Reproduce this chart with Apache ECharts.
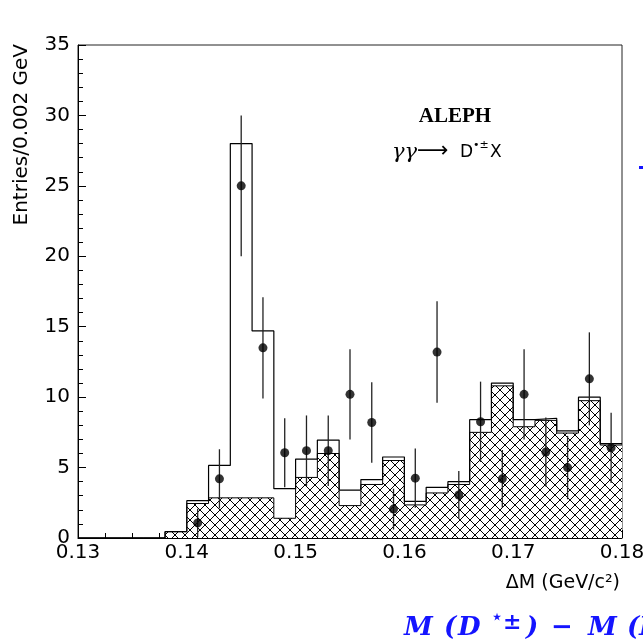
<!DOCTYPE html>
<html>
<head>
<meta charset="utf-8">
<script src="https://cdn.jsdelivr.net/npm/echarts@6/dist/echarts.min.js"></script>
<style>
  html, body { margin: 0; padding: 0; background: #fff; }
  #main { width: 643px; height: 643px; }
</style>
</head>
<body>
<div id="main"></div>
<script>
// bins of 0.002 GeV, lower edges
const binLow = [0.130, 0.132, 0.134, 0.136, 0.138, 0.140, 0.142, 0.144, 0.146, 0.148,
  0.150, 0.152, 0.154, 0.156, 0.158, 0.160, 0.162, 0.164, 0.166, 0.168,
  0.170, 0.172, 0.174, 0.176, 0.178]
const binHigh = 0.18
// open histogram (signal + background MC)
const totalCounts = [0, 0, 0, 0, 0.45, 2.65, 5.15, 28.0, 14.7, 3.5,
  5.6, 6.95, 3.4, 4.15, 5.75, 2.6, 3.6, 4.0, 8.4, 11.0,
  8.4, 8.5, 7.6, 10.0, 6.7]
// hatched histogram (background)
const bgCounts = [0, 0, 0, 0, 0.45, 2.45, 2.85, 2.85, 2.85, 1.4,
  4.3, 6.0, 2.3, 3.8, 5.5, 2.35, 3.2, 3.8, 7.5, 10.8,
  7.9, 8.35, 7.45, 9.75, 6.6]
// data points
const pointX = [0.141, 0.143, 0.145, 0.147, 0.149, 0.151, 0.153, 0.155, 0.157, 0.159,
  0.161, 0.163, 0.165, 0.167, 0.169, 0.171, 0.173, 0.175, 0.177, 0.179]
const pointY = [1.07, 4.2, 25.0, 13.5, 6.05, 6.2, 6.2, 10.2, 8.2, 2.05,
  4.25, 13.2, 3.05, 8.25, 4.2, 10.2, 6.1, 5.0, 11.3, 6.4]
const pointErr = [1.0, 2.1, 5.0, 3.6, 2.45, 2.5, 2.5, 3.2, 2.85, 1.45,
  2.1, 3.6, 1.7, 2.85, 2.05, 3.2, 2.45, 2.25, 3.3, 2.5]

const stepData = (vals) => {
  const d = binLow.map((x, i) => [x, vals[i]])
  d.push([binHigh, vals[vals.length - 1]])
  return d
}

// cross hatch pattern
const hatch = document.createElement('canvas')
hatch.width = 10
hatch.height = 10
const hc = hatch.getContext('2d')
hc.fillStyle = '#fff'
hc.fillRect(0, 0, 10, 10)
hc.strokeStyle = '#000'
hc.lineWidth = 1
hc.beginPath()
hc.moveTo(0, 0); hc.lineTo(10, 10)
hc.moveTo(10, 0); hc.lineTo(0, 10)
hc.stroke()

const font = 'DejaVu Sans'
const blue = '#1414ff'
const blueFont = 'italic bold 26px "DejaVu Serif"'
const blueText = (x, text, f, y) => ({
  type: 'text', x: x, y: y || 641,
  style: { text: text, font: f || blueFont, fill: blue, align: 'left', verticalAlign: 'bottom' },
})

const chart = echarts.init(document.getElementById('main'))
const option = {
  animation: false,
  backgroundColor: '#fff',
  grid: {
    left: 78,
    right: 21,
    top: 45,
    bottom: 105,
    outerBoundsMode: 'none',
    containLabel: false,
    show: true,
    borderColor: '#222',
    borderWidth: 1,
  },
  xAxis: {
    type: 'value',
    min: 0.13,
    max: 0.18,
    interval: 0.01,
    axisLine: { onZero: false, lineStyle: { color: '#000', width: 1 } },
    axisTick: { inside: true, length: 8, lineStyle: { color: '#000' } },
    minorTick: { show: true, splitNumber: 4, length: 5, lineStyle: { color: '#000' } },
    splitLine: { show: false },
    axisLabel: {
      color: '#000',
      fontFamily: font,
      fontSize: 20,
      margin: 5,
      formatter: (v) => v.toFixed(2),
    },
  },
  yAxis: {
    type: 'value',
    min: 0,
    max: 35,
    interval: 5,
    axisLine: { show: true, lineStyle: { color: '#000', width: 1 } },
    axisTick: { show: true, inside: true, length: 8, lineStyle: { color: '#000' } },
    minorTick: { show: true, splitNumber: 5, length: 5, lineStyle: { color: '#000' } },
    splitLine: { show: false },
    axisLabel: { color: '#000', fontFamily: font, fontSize: 20, margin: 8 },
  },
  graphic: [
    {
      type: 'text', x: 22, y: 44, rotation: Math.PI / 2,
      style: { text: 'Entries/0.002 GeV', font: '20px "DejaVu Sans"', fill: '#000', align: 'right', verticalAlign: 'middle' },
    },
    {
      type: 'text', x: 620, y: 583,
      style: { text: 'ΔM (GeV/c²)', font: '19px "DejaVu Sans"', fill: '#000', align: 'right', verticalAlign: 'middle' },
    },
    {
      type: 'text', x: 455, y: 117,
      style: { text: 'ALEPH', font: 'bold 21px "Liberation Serif"', fill: '#000', align: 'center', verticalAlign: 'middle' },
    },
    {
      type: 'text', x: 392, y: 153,
      style: { text: 'γγ', font: 'italic 21px "DejaVu Serif"', fill: '#000', align: 'left', verticalAlign: 'middle' },
    },
    {
      type: 'text', x: 417, y: 151,
      style: { text: '⟶', font: '22px "DejaVu Sans"', fill: '#000', align: 'left', verticalAlign: 'middle' },
    },
    {
      type: 'text', x: 460, y: 153,
      style: { text: 'D', font: '17px "DejaVu Sans"', fill: '#000', align: 'left', verticalAlign: 'middle' },
    },
    {
      type: 'text', x: 473, y: 145,
      style: { text: '•±', font: '11px "DejaVu Sans"', fill: '#000', align: 'left', verticalAlign: 'middle' },
    },
    {
      type: 'text', x: 490, y: 153,
      style: { text: 'X', font: '17px "DejaVu Sans"', fill: '#000', align: 'left', verticalAlign: 'middle' },
    },
    {
      type: 'rect', shape: { x: 639, y: 166, width: 4, height: 3 },
      style: { fill: blue },
    },
    blueText(404, 'M'),
    blueText(444, '('),
    blueText(458, 'D'),
    blueText(492, '⋆', 'bold 16px "DejaVu Serif"', 626),
    blueText(503, '±', 'bold 22px "DejaVu Serif"', 634),
    blueText(526, ')'),
    blueText(551, '−', 'bold 26px "DejaVu Serif"'),
    blueText(588, 'M'),
    blueText(627, '('),
    blueText(639, 'D'),
  ],
  series: [
    {
      name: 'background',
      type: 'line',
      step: 'end',
      symbol: 'none',
      data: stepData(bgCounts),
      lineStyle: { color: '#000', width: 1 },
      areaStyle: { color: { image: hatch, repeat: 'repeat' }, opacity: 1 },
      z: 1,
    },
    {
      name: 'total',
      type: 'line',
      step: 'end',
      symbol: 'none',
      data: stepData(totalCounts),
      lineStyle: { color: '#000', width: 1.2 },
      z: 2,
    },
    {
      name: 'errors',
      type: 'custom',
      data: pointX.map((x, i) => [x, Math.max(0, pointY[i] - pointErr[i]), pointY[i] + pointErr[i]]),
      encode: { x: 0, y: [1, 2] },
      renderItem: (params, api) => {
        const lo = api.coord([api.value(0), api.value(1)])
        const hi = api.coord([api.value(0), api.value(2)])
        return {
          type: 'line',
          shape: { x1: lo[0], y1: lo[1], x2: hi[0], y2: hi[1] },
          style: { stroke: '#222', lineWidth: 1.3 },
        }
      },
      z: 3,
    },
    {
      name: 'data',
      type: 'scatter',
      data: pointX.map((x, i) => [x, pointY[i]]),
      symbolSize: 9,
      itemStyle: { color: '#000' },
      z: 4,
    },
  ],
}
chart.setOption(option)
</script>
</body>
</html>
